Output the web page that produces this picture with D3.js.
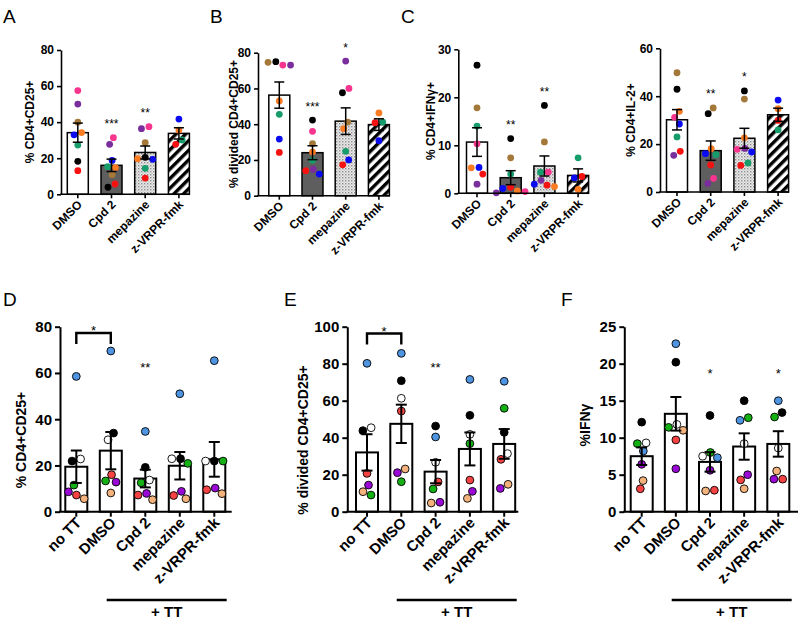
<!DOCTYPE html>
<html><head><meta charset="utf-8">
<script src="https://cdn.jsdelivr.net/npm/d3@7"></script>
<style>
body{margin:0;background:#fff}
svg{display:block}
text{font-family:"Liberation Sans",Arial,Helvetica,sans-serif}
</style>
</head><body>
<svg id="chart" width="800" height="620"></svg>
<script>
// ---------------- DATA ----------------
const topCategories = ["DMSO", "Cpd 2", "mepazine", "z-VRPR-fmk"];
const bottomCategories = ["no TT", "DMSO", "Cpd 2", "mepazine", "z-VRPR-fmk"];

// top-row donors (colour of each point, same order in every value list)
const topDonors = ["pink", "purple", "brown", "orange", "blue", "green", "black", "red"];
// bottom-row donors
const bottomDonors = ["blue", "black", "white", "green", "purple", "red", "tan"];

// Panel A: % CD4+CD25+
const cd25Top = [
  [57.5, 50, 40, 34.2, 33, 27.3, 18.3, 13.1],
  [31.4, 27.7, 10.9, 14.8, 18.8, 15.3, 3.9, 5.7],
  [37.5, 36.4, 28.6, 19.7, 19.4, 14.4, 20.5, 9.0],
  [null, null, null, 35.6, 41.7, 30.1, null, 27.7]
];
// Panel B: % divided CD4+CD25+
const dividedTop = [
  [73.1, 73.1, 74.6, 53, 31.7, 45.5, 75, 24.2],
  [36, 14.8, 29.1, 24.4, 12.1, 19.8, 42.3, 14],
  [60, 75.3, 41.2, 37.5, 20, 24.8, 57.6, 17.3],
  [null, null, null, 46.3, 30.8, 41.2, null, 40.8]
];
// Panel C: % CD4+IFNγ+
const ifngTop = [
  [10.3, 1.9, 17.8, 5.3, 5.4, 14, 26.7, 4.0],
  [0.35, 0.1, 7.4, 0.5, 1.0, 4.0, 11.4, 1.25],
  [4.4, 2.7, 10.7, 1.4, 1.9, 4.4, 18.3, 1.7],
  [null, null, null, 0.8, 3.2, 7.4, null, 3.5]
];
// Panel (top right): % CD4+IL-2+
const il2Top = [
  [31.2, 15.3, 49.8, 33.7, 28.4, 23, 42.9, 17],
  [5.7, 3.6, 35.1, 18.1, 16, 15.6, 32.7, 11.3],
  [17.8, 18.2, 38.8, 22.6, 16.7, 12.1, 42.2, 11.1],
  [null, null, null, 34.8, 38.4, 25.9, null, 29.9]
];
// Panel D: % CD4+CD25+ (+TT)
const cd25Bottom = [
  [58.5, 21.9, 22.8, 11.5, 8.6, 7.2, 5.6],
  [69.5, 34, 31.1, 13.3, 12.8, 16, 8.1],
  [34.7, 19.2, 13.7, 12.5, 7.9, 7.2, 5.2],
  [51, 22.9, 22.9, 20.9, 8.8, 7.0, 5.6],
  [65.3, 21.9, 21.9, 21.9, 10.2, 9.5, 7.8]
];
// Panel E: % divided CD4+CD25+ (+TT)
const dividedBottom = [
  [80.2, 43.8, 45.4, 9.0, 14.4, 20.7, 10.8],
  [85.6, 70.8, 61.3, 16.2, 21.1, 54.4, 23.1],
  [40.4, 46.3, 26.7, 12.3, 5.1, 16.1, 4.7],
  [71.5, 52.1, 41.8, 36.8, 11.0, 17.1, 7.2],
  [70.5, 42.9, 31.4, 55.9, 12.6, 28.3, 14.8]
];
// Panel F: %IFNγ (+TT)
const ifngBottom = [
  [8.2, 12.1, 9.3, 9.2, 6.4, 3.1, 4.2],
  [22.7, 20.2, 11.8, 11.4, 5.8, 9.7, 11.0],
  [7.3, 13.0, 7.5, 8.0, 5.6, 2.9, 2.8],
  [12.35, 15.0, 9.2, 12.7, 5.0, 4.3, 3.1],
  [15.0, 13.4, 8.6, 12.8, 4.4, 4.4, 5.5]
];

// significance marks per category
const starsA = ["", "***", "**", ""];
const starsB = ["", "***", "*", ""];
const starsC = ["", "**", "**", ""];
const starsIL2 = ["", "**", "*", ""];
const starsD = ["", "", "**", "", ""];
const starsE = ["", "", "**", "", ""];
const starsF = ["", "", "*", "", "*"];

// y-axis ticks
const ticks80 = [0, 20, 40, 60, 80];
const ticks30 = [0, 10, 20, 30];
const ticks60 = [0, 20, 40, 60];
const ticks100 = [0, 20, 40, 60, 80, 100];
const ticks25 = [0, 5, 10, 15, 20, 25];

// ---------------- STYLES ----------------
const topColors = {pink:"#f7358f", purple:"#7a2d9c", brown:"#a47839", orange:"#fb7c22",
  blue:"#0b0bf2", green:"#179d6c", black:"#000000", red:"#f71212"};
const bottomColors = {blue:"#4f94e0", black:"#000000", white:"#ffffff", green:"#14b014",
  purple:"#9a08d6", red:"#f54343", tan:"#f4b27c"};

const svg = d3.select("#chart");
const defs = svg.append("defs");
// stipple pattern (mepazine)
const stip = defs.append("pattern").attr("id","stipple").attr("patternUnits","userSpaceOnUse")
  .attr("width",3).attr("height",3);
stip.append("rect").attr("width",3).attr("height",3).attr("fill","#ececec");
stip.append("rect").attr("width",1.4).attr("height",1.4).attr("fill","#8a8a8a");
stip.append("rect").attr("x",1.5).attr("y",1.5).attr("width",1.2).attr("height",1.2).attr("fill","#b5b5b5");
// hatch pattern (z-VRPR-fmk)
const hatch = defs.append("pattern").attr("id","hatch").attr("patternUnits","userSpaceOnUse")
  .attr("width",6.8).attr("height",6.8).attr("patternTransform","rotate(45)");
hatch.append("rect").attr("width",6.8).attr("height",6.8).attr("fill","#fff");
hatch.append("rect").attr("width",3.4).attr("height",6.8).attr("fill","#000");

const topFills = ["#ffffff", "#5e5e5e", "url(#stipple)", "url(#hatch)"];
const bottomFills = ["#fff","#fff","#fff","#fff","#fff"];

// ---------------- DRAWING ----------------
function swarmOffsets(ys, r, gap) {
  const d = 2 * r * gap;
  const idx = ys.map((y, i) => i).filter(i => ys[i] != null).sort((a, b) => ys[a] - ys[b]);
  const off = new Array(ys.length).fill(0);
  const placed = [];
  idx.forEach(i => {
    let best = 0;
    for (let k = 0; k < 400; k++) {
      const cand = (k % 2 === 0 ? 1 : -1) * Math.ceil(k / 2) * 0.25;
      if (placed.every(j => Math.hypot(off[j] - cand, ys[j] - ys[i]) >= d - 1e-6)) { best = cand; break; }
    }
    off[i] = best; placed.push(i);
  });
  const seen = new Set();
  idx.forEach(i => {
    if (seen.has(i)) return;
    const cl = [i]; seen.add(i);
    for (let q = 0; q < cl.length; q++) {
      idx.forEach(j => { if (!seen.has(j) && Math.abs(ys[j] - ys[cl[q]]) < d) { seen.add(j); cl.push(j); } });
    }
    if (cl.length > 1) {
      const mn = d3.min(cl, j => off[j]), mx = d3.max(cl, j => off[j]);
      const sh = (mn + mx) / 2;
      cl.forEach(j => off[j] -= sh);
    }
  });
  return off;
}

function drawPanel(cfg, cats, values, donors, colors, fills, stars) {
  const g = svg.append("g");
  const n = cats.length;
  const y = d3.scaleLinear().domain([0, cfg.yMax]).range([cfg.yBot, cfg.yTop]);
  const pi = 1 - cfg.barW / cfg.step;
  const r0 = cfg.firstCenter - cfg.step / 2;
  const x = d3.scaleBand().domain(cats).range([r0, r0 + n * cfg.step]).paddingInner(pi).paddingOuter(pi / 2);
  const cx = c => x(c) + x.bandwidth() / 2;

  const stats = values.map(v => {
    const vals = v.filter(a => a != null);
    const m = d3.mean(vals);
    const sem = d3.deviation(vals) / Math.sqrt(vals.length);
    return {m, sem, max: d3.max(vals)};
  });

  g.selectAll("rect.bar").data(cats).join("rect")
    .attr("x", c => x(c)).attr("width", x.bandwidth())
    .attr("y", (c, i) => y(stats[i].m)).attr("height", (c, i) => cfg.yBot - y(stats[i].m))
    .attr("fill", (c, i) => fills[i]).attr("stroke", "#000").attr("stroke-width", cfg.barStroke);

  cats.forEach((c, i) => {
    const ys = values[i].map(v => v == null ? null : y(v));
    const off = swarmOffsets(ys, cfg.r, cfg.gap);
    const pts = values[i].map((v, k) => ({v, k, dx: off[k]})).filter(p => p.v != null);
    g.append("g").selectAll("circle").data(pts).join("circle")
      .attr("cx", p => cx(c) + p.dx).attr("cy", p => y(p.v)).attr("r", cfg.r)
      .attr("fill", p => colors[donors[p.k]])
      .attr("stroke", cfg.dotStroke ? "#000" : "none").attr("stroke-width", cfg.dotStroke || 0);
  });

  cats.forEach((c, i) => {
    const s = stats[i], xc = cx(c);
    const eg = g.append("g").attr("stroke", "#000").attr("stroke-width", cfg.errStroke).attr("fill", "none");
    eg.append("line").attr("x1", xc).attr("x2", xc).attr("y1", y(s.m - s.sem)).attr("y2", y(s.m + s.sem));
    [s.m - s.sem, s.m + s.sem].forEach(v => eg.append("line")
      .attr("x1", xc - cfg.capW / 2).attr("x2", xc + cfg.capW / 2).attr("y1", y(v)).attr("y2", y(v)));
  });

  const ya = g.append("g").attr("transform", `translate(${cfg.axisX},0)`)
    .call(d3.axisLeft(y).tickValues(cfg.ticks).tickSize(cfg.tickLen).tickSizeOuter(0).tickPadding(3));
  ya.select(".domain").attr("stroke-width", cfg.axisStroke);
  ya.selectAll(".tick line").attr("stroke-width", cfg.axisStroke);
  ya.selectAll(".tick text").attr("font-size", cfg.tickFont).attr("font-weight", "bold")
    .attr("font-family", '"Liberation Sans",Arial,sans-serif').attr("fill", "#000");

  const xa = g.append("g").attr("transform", `translate(0,${cfg.yBot})`)
    .call(d3.axisBottom(x).tickSize(cfg.tickLen).tickSizeOuter(0).tickFormat(""));
  xa.select(".domain").remove();
  xa.selectAll(".tick line").attr("stroke-width", cfg.axisStroke);
  g.append("line").attr("x1", cfg.axisX - cfg.axisStroke / 2).attr("x2", cfg.axisEnd)
    .attr("y1", cfg.yBot).attr("y2", cfg.yBot).attr("stroke", "#000").attr("stroke-width", cfg.axisStroke);
  g.selectAll("text.xl").data(cats).join("text")
    .attr("transform", c => `translate(${cx(c) + cfg.xlDx},${cfg.yBot + cfg.xlDy}) rotate(-45)`)
    .attr("text-anchor", "end").attr("font-size", cfg.xFont).attr("font-weight", "bold")
    .text(c => c);

  g.append("text").attr("transform", `translate(${cfg.titleX},${cfg.titleY}) rotate(-90)`)
    .attr("text-anchor", "middle").attr("font-size", cfg.titleFont).attr("font-weight", "bold")
    .text(cfg.title);

  cats.forEach((c, i) => {
    if (!stars[i]) return;
    const sy = cfg.starFixedY != null ? cfg.starFixedY : y(stats[i].max) - cfg.starAbove;
    g.append("text").attr("x", cx(c)).attr("y", sy + cfg.starFont * 0.62)
      .attr("text-anchor", "middle").attr("font-size", cfg.starFont).text(stars[i]);
  });

  if (cfg.bracket) {
    const [a, b] = cfg.bracket;
    const xa1 = cx(cats[a]), xb1 = cx(cats[b]);
    g.append("path").attr("d", `M${xa1},${cfg.bracketY + 11}V${cfg.bracketY}H${xb1}V${cfg.bracketY + 11}`)
      .attr("fill", "none").attr("stroke", "#000").attr("stroke-width", 2.4);
    g.append("text").attr("x", (xa1 + xb1) / 2).attr("y", cfg.bracketY - 6 + cfg.starFont * 0.62)
      .attr("text-anchor", "middle").attr("font-size", cfg.starFont).text("*");
  }

  if (cfg.tt) {
    g.append("line").attr("x1", cfg.ttX1).attr("x2", cfg.ttX2).attr("y1", 600).attr("y2", 600)
      .attr("stroke", "#000").attr("stroke-width", 2.6);
    g.append("text").attr("x", (cfg.ttX1 + cfg.ttX2) / 2).attr("y", 617).attr("text-anchor", "middle")
      .attr("font-size", 15).attr("font-weight", "bold").text("+ TT");
  }

  if (cfg.letter) {
    svg.append("text").attr("x", cfg.letterX).attr("y", cfg.letterY).attr("font-size", 19)
      .attr("font-family", '"Open Sans","Liberation Sans",sans-serif').text(cfg.letter);
  }
}

const topBase = {barW: 21, r: 3.4, gap: 1.12, dotStroke: 0, barStroke: 1.5, errStroke: 1.5, capW: 10,
  axisStroke: 1.6, tickLen: 4, tickFont: 12, xFont: 12, titleFont: 12, starFont: 12,
  xlDx: 5, xlDy: 11, starAbove: 17};
const botBase = {barW: 22, r: 3.9, gap: 1.1, dotStroke: 0.9, barStroke: 2, errStroke: 2, capW: 11,
  axisStroke: 2, tickLen: 5, tickFont: 15, xFont: 15, titleFont: 14, starFont: 13,
  xlDx: 6, xlDy: 12, starFixedY: 364, tt: true};

drawPanel({...topBase, axisX: 61, yTop: 50, yBot: 194.3, yMax: 80, ticks: ticks80, firstCenter: 77.8, step: 33.7,
  axisEnd: 190, title: "% CD4+CD25+", titleX: 34, titleY: 122, letter: "A", letterX: 3, letterY: 23},
  topCategories, cd25Top, topDonors, topColors, topFills, starsA);
drawPanel({...topBase, axisX: 258, yTop: 52.7, yBot: 195.7, yMax: 80, ticks: ticks80, firstCenter: 279.3, step: 33.2,
  axisEnd: 390, title: "% divided CD4+CD25+", titleX: 238, titleY: 124, letter: "B", letterX: 210, letterY: 23},
  topCategories, dividedTop, topDonors, topColors, topFills, starsB);
drawPanel({...topBase, axisX: 458.3, yTop: 49.3, yBot: 193.3, yMax: 30, ticks: ticks30, firstCenter: 477, step: 33.7,
  axisEnd: 589, title: "% CD4+IFNγ+", titleX: 435, titleY: 121, letter: "C", letterX: 401, letterY: 23},
  topCategories, ifngTop, topDonors, topColors, topFills, starsC);
drawPanel({...topBase, axisX: 660, yTop: 48.3, yBot: 192, yMax: 60, ticks: ticks60, firstCenter: 677, step: 33.7,
  axisEnd: 789, title: "% CD4+IL-2+", titleX: 635, titleY: 120},
  topCategories, il2Top, topDonors, topColors, topFills, starsIL2);

drawPanel({...botBase, axisX: 60, yTop: 326.7, yBot: 511.7, yMax: 80, ticks: ticks80, firstCenter: 76.3, step: 34.5,
  axisEnd: 231.7, title: "% CD4+CD25+", titleX: 26, titleY: 440, letter: "D", letterX: 3, letterY: 306,
  bracket: [0, 1], bracketY: 333, ttX1: 106.7, ttX2: 226.7},
  bottomCategories, cd25Bottom, bottomDonors, bottomColors, bottomFills, starsD);
drawPanel({...botBase, axisX: 347.3, yTop: 326.7, yBot: 511.7, yMax: 100, ticks: ticks100, firstCenter: 367, step: 34.3,
  axisEnd: 518.3, title: "% divided CD4+CD25+", titleX: 308, titleY: 440, letter: "E", letterX: 284, letterY: 306,
  bracket: [0, 1], bracketY: 333.5, ttX1: 396.7, ttX2: 516.7},
  bottomCategories, dividedBottom, bottomDonors, bottomColors, bottomFills, starsE);
drawPanel({...botBase, axisX: 624.3, yTop: 326.7, yBot: 511.7, yMax: 25, ticks: ticks25, firstCenter: 641.7, step: 34.15,
  axisEnd: 798, title: "%IFNγ", titleX: 590, titleY: 425, letter: "F", letterX: 561, letterY: 306, starFixedY: 370,
  ttX1: 671.7, ttX2: 791.7},
  bottomCategories, ifngBottom, bottomDonors, bottomColors, bottomFills, starsF);
</script>
</body></html>
